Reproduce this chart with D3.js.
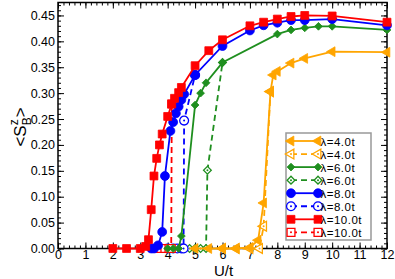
<!DOCTYPE html>
<html>
<head>
<meta charset="utf-8">
<script src="https://cdn.jsdelivr.net/npm/d3@7"></script>
<style>
body { margin: 0; background: #fff; }
svg { display: block; font-family: "Liberation Sans", Arial, sans-serif; }
</style>
</head>
<body>
<svg id="chart" width="395" height="279"></svg>
<script>
// values, [U/t, <S_B^z>]
let orangeSolid = [[5.0, 0], [5.5, 0], [6.0, 0], [6.5, 0], [7.0, 0.002], [7.3, 0.016], [7.5, 0.088], [7.75, 0.303], [7.85, 0.335], [8.0, 0.342], [8.5, 0.358], [9.0, 0.367], [10, 0.38], [12, 0.379]]
let orangeDashed = [[6.0, 0], [6.5, 0], [7.0, 0], [7.35, 0], [7.5, 0.043], [7.75, 0.303]]
let greenSolid = [[4.0, 0], [4.2, 0], [4.4, 0], [4.5, 0.024], [5.0, 0.277], [5.2, 0.30], [5.4, 0.32], [6.0, 0.359], [8.0, 0.414], [8.5, 0.422], [9.0, 0.426], [9.5, 0.429], [10, 0.429], [12, 0.422]]
let greenDashed = [[4.6, 0], [4.8, 0], [5.0, 0], [5.2, 0], [5.4, 0], [5.45, 0.151], [6.0, 0.359]]
let blueSolid = [[3.4, 0], [3.5, 0], [3.65, 0.006], [3.8, 0.032], [3.9, 0.14], [4.1, 0.227], [4.2, 0.244], [4.3, 0.261], [4.4, 0.274], [4.5, 0.287], [4.6, 0.298], [5.0, 0.335], [6.0, 0.391], [7.0, 0.421], [7.5, 0.431], [8.0, 0.436], [8.5, 0.441], [9.0, 0.441], [10, 0.443], [12, 0.431]]
let blueDashed = [[4.0, 0], [4.2, 0], [4.35, 0], [4.5, 0], [4.58, 0], [4.6, 0.247], [5.0, 0.335]]
let redSolid = [[2.0, 0], [2.5, 0], [3.0, 0], [3.2, 0.004], [3.3, 0.017], [3.4, 0.075], [3.5, 0.14], [3.6, 0.174], [3.7, 0.2], [3.8, 0.221], [4.0, 0.255], [4.15, 0.279], [4.25, 0.29], [4.4, 0.301], [4.5, 0.311], [5.0, 0.353], [5.5, 0.382], [6.0, 0.403], [7.0, 0.43], [7.5, 0.437], [8.0, 0.443], [8.5, 0.448], [9.0, 0.45], [10, 0.449], [12, 0.437]]
let redDashed = [[3.6, 0], [3.75, 0], [3.9, 0], [4.05, 0], [4.13, 0], [4.15, 0.279]]

let legendLabels = ["λ=4.0t", "λ=4.0t", "λ=6.0t", "λ=6.0t", "λ=8.0t", "λ=8.0t", "λ=10.0t", "λ=10.0t"]
let xTicks = d3.range(0, 13, 1)
let yTicks = [0, 0.05, 0.10, 0.15, 0.20, 0.25, 0.30, 0.35, 0.40, 0.45]

let series = [
    {data: orangeSolid, color: "#ffa500", shape: "tri", open: false},
    {data: orangeDashed, color: "#ffa500", shape: "tri", open: true},
    {data: greenSolid, color: "#1f8f1f", shape: "diamond", open: false},
    {data: greenDashed, color: "#1f8f1f", shape: "diamond", open: true},
    {data: blueSolid, color: "#0000ff", shape: "circle", open: false},
    {data: blueDashed, color: "#0000ff", shape: "circle", open: true},
    {data: redSolid, color: "#ff0000", shape: "square", open: false},
    {data: redDashed, color: "#ff0000", shape: "square", open: true}
]

let svg = d3.select("#chart")

let pLeft = 58, pRight = 387, pTop = 2.5, pBottom = 248.5

let x = d3.scaleLinear([0, 12], [pLeft, pRight])
let y = d3.scaleLinear([0, 0.475], [pBottom, pTop])

function symbolPath(shape) {
    if (shape === "tri") return d3.symbol(d3.symbolTriangle, 42)()
    if (shape === "diamond") return d3.symbol(d3.symbolSquare, 30)()
    if (shape === "circle") return d3.symbol(d3.symbolCircle, 62)()
    return d3.symbol(d3.symbolSquare, 62)()
}

function symbolRotate(shape) {
    if (shape === "tri") return " rotate(-90)"
    if (shape === "diamond") return " rotate(45)"
    return ""
}

function drawMarker(g, shape, color, open, px, py) {
    g.append("path")
        .attr("d", symbolPath(shape))
        .attr("transform", `translate(${px},${py})` + symbolRotate(shape))
        .attr("fill", open ? "#fff" : color)
        .attr("stroke", color)
        .attr("stroke-width", open ? 1.3 : 0.8)
    if (open) {
        g.append("circle").attr("cx", px).attr("cy", py).attr("r", 1).attr("fill", color)
    }
}

// axes: minor ticks first, then majors with labels
let fontTick = "12.5px"

svg.append("g").attr("transform", `translate(0,${pBottom})`)
    .call(d3.axisBottom(x).tickValues(d3.range(0, 12.01, 0.2)).tickSize(-3).tickSizeOuter(0).tickFormat(""))
svg.append("g").attr("transform", `translate(0,${pTop})`)
    .call(d3.axisTop(x).tickValues(d3.range(0, 12.01, 0.2)).tickSize(-3).tickSizeOuter(0).tickFormat(""))
svg.append("g").attr("transform", `translate(${pLeft},0)`)
    .call(d3.axisLeft(y).tickValues(d3.range(0, 0.4751, 0.01)).tickSize(-3).tickSizeOuter(0).tickFormat(""))
svg.append("g").attr("transform", `translate(${pRight},0)`)
    .call(d3.axisRight(y).tickValues(d3.range(0, 0.4751, 0.01)).tickSize(-3).tickSizeOuter(0).tickFormat(""))

svg.append("g").attr("transform", `translate(0,${pBottom})`)
    .call(d3.axisBottom(x).tickValues(xTicks).tickSize(-6).tickSizeOuter(0).tickPadding(1.8).tickFormat(d3.format("d")))
svg.append("g").attr("transform", `translate(${pLeft},0)`)
    .call(d3.axisLeft(y).tickValues(yTicks).tickSize(-6).tickSizeOuter(0).tickPadding(3).tickFormat(d3.format(".2f")))
svg.append("g").attr("transform", `translate(0,${pTop})`)
    .call(d3.axisTop(x).tickValues(xTicks).tickSize(-6).tickSizeOuter(0).tickFormat(""))
svg.append("g").attr("transform", `translate(${pRight},0)`)
    .call(d3.axisRight(y).tickValues(yTicks).tickSize(-6).tickSizeOuter(0).tickFormat(""))

svg.selectAll(".tick line").attr("stroke", "#000").attr("stroke-width", 1)
svg.selectAll(".domain").remove()
svg.selectAll(".tick text").attr("fill", "#000").style("font-size", fontTick)
    .style("font-family", '"Liberation Sans", Arial, sans-serif')

svg.append("rect")
    .attr("x", pLeft).attr("y", pTop)
    .attr("width", pRight - pLeft).attr("height", pBottom - pTop)
    .attr("fill", "none").attr("stroke", "#000").attr("stroke-width", 1.5)

// axis titles
svg.append("text")
    .attr("x", (pLeft + pRight) / 2 + 1).attr("y", 275.5)
    .attr("text-anchor", "middle")
    .style("font-size", "15px")
    .text("U/t")

let yl = svg.append("g").attr("transform", "translate(26,127) rotate(-90)")
let ylt = yl.append("text").attr("text-anchor", "middle").style("font-size", "17px")
ylt.append("tspan").text("<S")
ylt.append("tspan").attr("dy", -8).style("font-size", "12px").text("z")
ylt.append("tspan").attr("dx", -6).attr("dy", 13).style("font-size", "12px").text("B")
ylt.append("tspan").attr("dy", -5).text(">")

// lines (dashed series underneath)
let line = d3.line().x(d => x(d[0])).y(d => y(d[1]))
let order = [1, 3, 5, 7, 0, 2, 4, 6]
let plot = svg.append("g")

for (let k = 0; k < order.length; k++) {
    let s = series[order[k]]
    let g = plot.append("g")
    g.append("path")
        .attr("d", line(s.data))
        .attr("fill", "none")
        .attr("stroke", s.color)
        .attr("stroke-width", 1.8)
        .attr("stroke-dasharray", s.open ? "6,4" : null)
    for (let i = 0; i < s.data.length; i++) {
        drawMarker(g, s.shape, s.color, s.open, x(s.data[i][0]), y(s.data[i][1]))
    }
}

// legend
let legend = svg.append("g")
legend.append("rect")
    .attr("x", 286).attr("y", 133)
    .attr("width", 85).attr("height", 107)
    .attr("fill", "#fff").attr("stroke", "#999").attr("stroke-width", 1.5)

for (let i = 0; i < series.length; i++) {
    let s = series[i]
    let ly = 141 + i * 13.05
    let row = legend.append("g")
    row.append("line")
        .attr("x1", 291).attr("x2", 318)
        .attr("y1", ly).attr("y2", ly)
        .attr("stroke", s.color).attr("stroke-width", 1.8)
        .attr("stroke-dasharray", s.open ? "6,4" : null)
    drawMarker(row, s.shape, s.color, s.open, 291, ly)
    drawMarker(row, s.shape, s.color, s.open, 318, ly)
    row.append("text")
        .attr("x", 320.5).attr("y", ly + 4.5)
        .style("font-size", "11.5px")
        .style("letter-spacing", "0.5px")
        .text(legendLabels[i])
}
</script>
</body>
</html>
